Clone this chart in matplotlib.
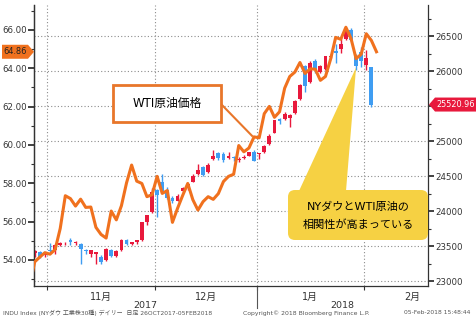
import numpy as np
import pandas as pd
import matplotlib
matplotlib.use("Agg")
import matplotlib.pyplot as plt
from matplotlib.patches import Polygon, Rectangle, FancyBboxPatch
from matplotlib.transforms import IdentityTransform, blended_transform_factory
from matplotlib.ticker import MultipleLocator, FixedLocator, FormatStrFormatter, FuncFormatter

plt.rcParams['font.family'] = ['DejaVu Sans', 'Noto Sans CJK JP']

# trading days (US holidays removed), axis runs into Feb
holidays = ['2017-11-23', '2017-12-25', '2018-01-01', '2018-01-15', '2018-02-19']
days = pd.bdate_range('2017-10-26', '2018-02-28')
days = days[~days.isin(pd.to_datetime(holidays))]

# NY Dow daily OHLC, 26 Oct 2017 - 02 Feb 2018
dow_open = [23350, 23400, 23420, 23370,
            23450, 23440, 23520, 23540, 23580, 23540, 23530, 23440, 23380, 23390, 23350,
            23300, 23440, 23360, 23440, 23590, 23530, 23560, 23580, 23850, 23980,
            24300, 24420, 24300, 24180, 24150, 24280, 24330, 24420, 24530, 24630,
            24560, 24740, 24830, 24810, 24760, 24770, 24730, 24760, 24790, 24850,
            24810, 24850, 24960, 25115, 25310, 25310, 25330, 25400, 25600, 26070,
            25840, 26150, 25990, 26030, 26200, 26280, 26310, 26460, 26584, 26198, 26268,
            26083, 26062]
dow_high = [23440, 23450, 23430, 23400,
            23550, 23530, 23560, 23560, 23610, 23570, 23540, 23460, 23450, 23420, 23370,
            23470, 23460, 23440, 23600, 23600, 23560, 23590, 23840, 23950, 24330,
            24310, 24534, 24350, 24210, 24250, 24350, 24390, 24530, 24670, 24650,
            24690, 24876, 24850, 24850, 24850, 24780, 24770, 24800, 24840, 24870,
            24830, 24940, 25105, 25300, 25330, 25420, 25380, 25580, 25810, 26090,
            26150, 26170, 26080, 26215, 26250, 26390, 26460, 26617, 26608, 26240, 26338,
            26307, 26062]
dow_low = [23320, 23350, 23330, 23340,
           23420, 23390, 23500, 23510, 23520, 23520, 23250, 23380, 23340, 23240, 23240,
           23290, 23340, 23350, 23430, 23510, 23520, 23530, 23570, 23800, 23970,
           23920, 24280, 24170, 24110, 24140, 24270, 24300, 24410, 24520, 24500,
           24540, 24730, 24730, 24700, 24750, 24720, 24700, 24740, 24780, 24710,
           24740, 24830, 24950, 25110, 25250, 25300, 25200, 25390, 25590, 25700,
           25830, 25970, 25970, 26020, 26180, 26120, 26260, 26440, 26435, 26020, 26051,
           26014, 25491]
dow_close = [23401, 23434, 23349, 23377,
             23435, 23516, 23539, 23548, 23557, 23563, 23462, 23422, 23440, 23409, 23271,
             23458, 23358, 23430, 23591, 23526, 23558, 23581, 23837, 23941, 24272,
             24232, 24290, 24181, 24141, 24211, 24329, 24386, 24505, 24585, 24509,
             24652, 24792, 24755, 24727, 24782, 24754, 24746, 24774, 24838, 24719,
             24824, 24923, 25075, 25296, 25283, 25386, 25369, 25575, 25803, 25793,
             26116, 26018, 26072, 26215, 26211, 26252, 26393, 26617, 26439, 26077, 26149,
             26187, 25521]

# WTI close, 26 Oct 2017 - 05 Feb 2018 (last one is the live quote)
wti_close = [52.64, 53.90, 54.15, 54.38,
             54.30, 54.54, 55.64, 57.35, 57.20, 56.81, 57.17, 56.74, 56.76, 55.70, 55.33,
             55.14, 56.55, 56.09, 56.83, 58.02, 58.95, 58.11, 57.99, 57.30, 57.40,
             58.36, 57.47, 57.62, 55.96, 56.69, 57.36, 57.99, 57.14, 56.60, 57.04,
             57.30, 57.16, 57.46, 58.09, 58.36, 58.47, 59.97, 59.64, 59.84, 60.42,
             60.37, 61.63, 62.01, 61.44, 61.73, 62.96, 63.57, 63.80, 64.30, 63.73,
             63.97, 63.95, 63.37, 63.57, 64.47, 65.61, 65.51, 66.14, 65.56, 64.50, 64.73,
             65.80, 65.45, 64.86]

month_names = ['11月', '12月', '1月', '2月']
year_names = ['2017', '2018']
wti_last = '64.86'
dow_last = '25520.96'

UP = '#E8193C'
DOWN = '#3F9DF2'
ORANGE = '#F0711E'
YELLOW = '#F6D143'
GRID = '#8c8c8c'
DARK = '#333333'

W, H = 477, 323
fig = plt.figure(figsize=(W / 100, H / 100), dpi=100)
fig.patch.set_facecolor('white')
ax = fig.add_axes([34 / W, 1 - 286 / H, (428 - 34) / W, (286 - 5) / H])
ax_oil = ax.twinx()   # oil line sits above the candles

# month boundaries / mid points in trading-day index
months = np.array([d.month for d in days])
bounds = [i - 0.5 for i in range(1, len(days)) if months[i] != months[i - 1]]
mids = []
for m in [11, 12, 1, 2]:
    idx = np.where(months == m)[0]
    mids.append((idx[0] + idx[-1]) / 2)

x0, x1 = 0.86, 78.1
ax.set_xlim(x0, x1)
ax.set_ylim(22929, 26943)

# candles
x = np.arange(len(dow_close))
o = np.array(dow_open, float)
c = np.array(dow_close, float)
hi = np.array(dow_high, float)
lo = np.array(dow_low, float)
cols = np.where(c >= o, UP, DOWN)
ax.vlines(x, lo, hi, colors=cols, linewidth=1, zorder=3)
ax.bar(x, np.maximum(np.abs(c - o), 10), bottom=np.minimum(o, c), width=0.75,
       color=cols, linewidth=0, zorder=4)

# grid
ax.yaxis.set_major_locator(MultipleLocator(500))
ax.yaxis.set_minor_locator(MultipleLocator(250))
ax.grid(axis='y', which='major', linestyle=(0, (1, 2)), color=GRID, linewidth=0.8, zorder=1)
for b in bounds:
    ax.axvline(b, linestyle=(0, (1, 2)), color=GRID, linewidth=0.8, zorder=1)
ax.set_axisbelow(True)

# the last-price tag hides the 25500 label
hidden = round(dow_close[-1] / 500) * 500
ax.yaxis.tick_right()
ax.yaxis.set_major_formatter(FuncFormatter(lambda v, p: '' if abs(v - hidden) < 1 else '%d' % v))
ax.tick_params(axis='y', which='major', length=4, width=1.3, pad=1, colors=DARK, labelsize=6.2)
ax.tick_params(axis='y', which='minor', length=2.5, width=0.8, colors=DARK)

ax.xaxis.set_major_locator(FixedLocator(bounds))
ax.xaxis.set_minor_locator(FixedLocator(mids))
ax.set_xticklabels([''] * len(bounds))
ax.set_xticklabels(month_names, minor=True)
ax.tick_params(axis='x', which='major', length=3, width=0.8, colors=DARK)
ax.tick_params(axis='x', which='minor', length=0, pad=4.5, labelsize=7, colors=DARK)

ax.spines['top'].set_visible(False)
for s in ['left', 'right', 'bottom']:
    ax.spines[s].set_color(DARK)
    ax.spines[s].set_linewidth(0.9)

# years under the months
trans = blended_transform_factory(ax.transData, ax.transAxes)
jan = bounds[2]
ax.text((x0 + jan) / 2, -0.071, year_names[0], transform=trans, ha='center', va='center',
        fontsize=6.8, color=DARK)
ax.text((jan + x1) / 2, -0.071, year_names[1], transform=trans, ha='center', va='center',
        fontsize=6.8, color=DARK)
ax.plot([jan, jan], [0, -0.078], transform=trans, color='#555555', lw=0.8, clip_on=False)

# WTI on left axis
ax_oil.plot(np.arange(len(wti_close)), wti_close, color=ORANGE, lw=2.2, zorder=5)
ax_oil.set_ylim(52.64, 67.30)
ax_oil.set_xlim(x0, x1)
ax_oil.yaxis.tick_left()
ax_oil.yaxis.set_major_locator(MultipleLocator(2))
ax_oil.yaxis.set_minor_locator(MultipleLocator(1))
ax_oil.yaxis.set_major_formatter(FormatStrFormatter('%.2f'))
ax_oil.tick_params(axis='y', which='major', length=4, width=1.3, pad=1, colors=DARK, labelsize=6.2)
ax_oil.tick_params(axis='y', which='minor', length=2.5, width=0.8, colors=DARK)
for s in ['top', 'bottom', 'right']:
    ax_oil.spines[s].set_visible(False)
ax_oil.spines['left'].set_color(DARK)
ax_oil.spines['left'].set_linewidth(0.9)

ident = IdentityTransform()

# last-value tags
yv = ax_oil.transData.transform((0, wti_close[-1]))[1]
fig.add_artist(Polygon([(2, yv - 7), (28, yv - 7), (34, yv), (28, yv + 7), (2, yv + 7)],
                       closed=True, facecolor=ORANGE, edgecolor='none', transform=ident))
fig.text(15.5, yv, wti_last, transform=ident, ha='center', va='center', fontsize=5.9, color='#222222')

yv = ax.transData.transform((0, dow_close[-1]))[1]
fig.add_artist(Polygon([(429, yv), (435, yv + 7), (476, yv + 7), (476, yv - 7), (435, yv - 7)],
                       closed=True, facecolor=UP, edgecolor='none', transform=ident))
fig.text(455.5, yv, dow_last, transform=ident, ha='center', va='center', fontsize=5.9, color='white')


def px(xp, yp):
    return xp, H - yp


# WTI label box
fig.add_artist(Rectangle(px(113, 122), 108, 37, facecolor='white', edgecolor='#E8762A',
                         lw=2, transform=ident, zorder=6))
fig.text(*px(167, 103.5), 'WTI原油価格', transform=ident, ha='center', va='center',
         fontsize=8.5, color='black', zorder=7)
tip = ax_oil.transData.transform((44, wti_close[44]))
fig.add_artist(plt.Line2D([222, tip[0] - 2], [H - 105, tip[1] + 1], color='#E8762A', lw=1.5,
                          transform=ident, zorder=6))

# yellow callout
tip = ax.transData.transform((64, 26050))
fig.add_artist(Polygon([px(299, 191), px(346, 191), tuple(tip)], closed=True,
                       facecolor=YELLOW, edgecolor='none', transform=ident, zorder=6))
fig.add_artist(FancyBboxPatch(px(288, 240), 140, 50, boxstyle='round,pad=0,rounding_size=7',
                              facecolor=YELLOW, edgecolor='none', transform=ident, zorder=6))
fig.text(*px(358, 207), 'NYダウとWTI原油の', transform=ident, ha='center', va='center',
         fontsize=8, color='black', zorder=7)
fig.text(*px(358, 225), '相関性が高まっている', transform=ident, ha='center', va='center',
         fontsize=8, color='black', zorder=7)

# footer
fig.text(*px(3, 313), 'INDU Index (NYダウ 工業株30種) デイリー  日足 26OCT2017-05FEB2018',
         transform=ident, ha='left', va='center', fontsize=4.3, color='#555555')
fig.text(*px(243, 313), 'Copyright© 2018 Bloomberg Finance L.P.', transform=ident,
         ha='left', va='center', fontsize=4.4, color='#555555')
fig.text(*px(470, 313), '05-Feb-2018 15:48:44', transform=ident, ha='right', va='center',
         fontsize=4.3, color='#555555')

fig.savefig('out.png', dpi=100)
